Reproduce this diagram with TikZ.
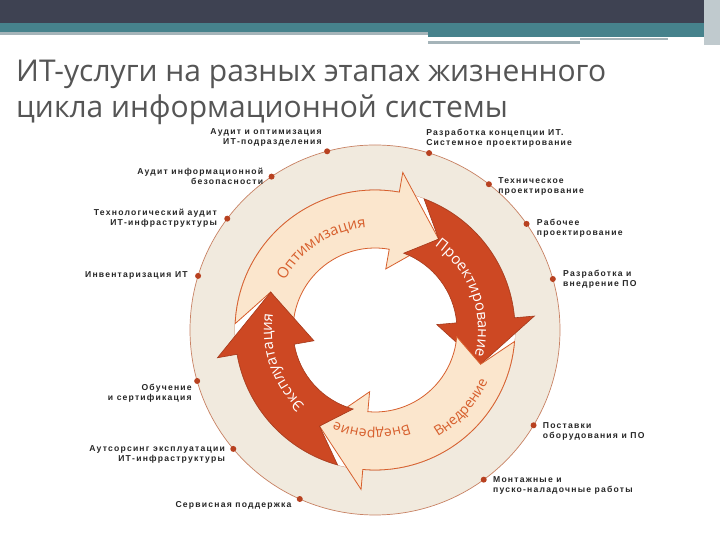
\documentclass[tikz,border=0pt]{standalone}
\usepackage{fontspec}
\setmainfont{Open Sans}
\newfontfamily\lab[LetterSpace=14]{Liberation Sans}
\usetikzlibrary{decorations.text}
\definecolor{topdark}{RGB}{62,66,82}
\definecolor{teal}{RGB}{70,130,140}
\definecolor{grayln}{RGB}{165,180,185}
\definecolor{ringbeige}{RGB}{241,234,222}
\definecolor{ringline}{RGB}{200,130,100}
\definecolor{cream}{RGB}{251,230,205}
\definecolor{redarr}{RGB}{205,72,35}
\definecolor{orangetxt}{RGB}{215,95,45}
\definecolor{titlegray}{RGB}{85,85,85}
\tikzset{
  dotm/.style={circle,fill=redarr!90!black,inner sep=0pt,minimum size=6pt},
  labl/.style={font=\lab\bfseries\fontsize{8.6}{10}\selectfont,align=left,text=black!85,inner sep=1pt},
  labr/.style={font=\lab\bfseries\fontsize{8.6}{10}\selectfont,align=right,text=black!85,inner sep=1pt},
  creamarr/.style={fill=cream,draw=orangetxt,line width=0.8pt},
  redarrst/.style={fill=redarr,draw=redarr!80!black,line width=0.6pt}
}
% arrow: #2 tail angle, #3 tail mid angle, #4 head base, #5 tip
\newcommand{\myarrow}[5][]{%
  \path[#1] (#2:140) arc[start angle=#2,end angle=#4,radius=140] -- (#4:160) -- (#5:111) -- (#4:62) -- (#4:82)
    arc[start angle=#4,end angle=#2,radius=82] -- (#3:111) -- cycle;}
\begin{document}
\begin{tikzpicture}[x=1pt,y=1pt]
\useasboundingbox (0,0) rectangle (720,540);
\fill[white] (0,0) rectangle (720,540);
% top bar
\fill[topdark] (0,517) rectangle (720,540);
\fill[teal] (0,508) rectangle (720,517);
\fill[grayln] (0,505) rectangle (428,508);
\fill[teal] (428,503) rectangle (705,508);
\fill[grayln] (428,496) rectangle (580,499);
\fill[grayln] (580,500) rectangle (668,502);
\fill[grayln!70] (704,495) rectangle (720,540);
% title
\node[anchor=west,text=titlegray,font=\fontsize{30}{34}\selectfont,inner sep=0pt] (t1) at (16,466) {ИТ-услуги на разных этапах жизненного};
\node[anchor=west,text=titlegray,font=\fontsize{30}{34}\selectfont,inner sep=0pt] (t2) at (16,430) {цикла информационной системы};
\begin{scope}[shift={(375,210)}]
\fill[ringbeige] (0,0) circle (185);
\draw[ringline,line width=0.7pt] (0,0) circle (185);
\draw[ringline,line width=0.7pt] (0,0) circle (140);
\fill[white] (0,0) circle (140);
\myarrow[creamarr]{177.4}{160}{80}{55}
\myarrow[redarrst]{69.5}{55}{5}{-18}
\myarrow[creamarr]{-4.7}{-18}{-95}{-120}
\myarrow[redarrst]{-105.5}{-120}{-170}{-200}
% arrow texts
\path[decorate,decoration={text along path,text align=center,text={|\fontsize{15}{15}\selectfont\color{orangetxt}|Оптимизация}}] (168:103) arc[start angle=168,end angle=78,radius=103];
\path[decorate,decoration={text along path,text align=center,text={|\fontsize{15}{15}\selectfont\color{white}|Проектирование}}] (62:103) arc[start angle=62,end angle=-22,radius=103];
\path[decorate,decoration={text along path,text align=center,text={|\fontsize{14}{14}\selectfont\color{orangetxt}|Внедрение}}] (-62:124) arc[start angle=-62,end angle=-22,radius=124];
\path[decorate,decoration={text along path,text align=center,text={|\fontsize{14}{14}\selectfont\color{orangetxt}|Внедрение}}] (-66:100) arc[start angle=-66,end angle=-118,radius=100];
\path[decorate,decoration={text along path,text align=center,text={|\fontsize{15}{15}\selectfont\color{white}|Эксплуатация}}] (-122:103) arc[start angle=-122,end angle=-200,radius=103];
% dots
\foreach \n/\a in {d1/105,d2/124,d3/143,d4/163,d5/196,d6/220,d7/246,r1/73,r2/52,r3/35,r4/16,r5/-31,r6/-54}
  \node[dotm] (\n) at (\a:185) {};
\end{scope}
% labels left
\node[labr,anchor=south east] (l1) at ([xshift=-2pt,yshift=2pt]d1.north west) {Аудит и оптимизация\\ИТ-подразделения};
\node[labr,anchor=east] (l2) at ([xshift=-4pt]d2.west) {Аудит информационной\\безопасности};
\node[labr,anchor=east] (l3) at ([xshift=-6pt]d3.west) {Технологический аудит\\ИТ-инфраструктуры};
\node[labr,anchor=east] (l4) at ([xshift=-6pt]d4.west) {Инвентаризация ИТ};
\node[labr,anchor=north east] (l5) at ([xshift=-2pt]d5.south west) {Обучение\\и сертификация};
\node[labr,anchor=east] (l6) at ([xshift=-4pt,yshift=-6pt]d6.west) {Аутсорсинг эксплуатации\\ИТ-инфраструктуры};
\node[labr,anchor=east] (l7) at ([xshift=-4pt,yshift=-6pt]d7.west) {Сервисная поддержка};
% labels right
\node[labl,anchor=south west] (m1) at ([xshift=-4pt,yshift=1pt]r1.north) {Разработка концепции ИТ.\\Системное проектирование};
\node[labl,anchor=west] (m2) at ([xshift=5pt,yshift=-2pt]r2.east) {Техническое\\проектирование};
\node[labl,anchor=west] (m3) at ([xshift=6pt,yshift=-4pt]r3.east) {Рабочее\\проектирование};
\node[labl,anchor=west] (m4) at ([xshift=6pt]r4.east) {Разработка и\\внедрение ПО};
\node[labl,anchor=west] (m5) at ([xshift=5pt,yshift=-6pt]r5.east) {Поставки\\оборудования и ПО};
\node[labl,anchor=west] (m6) at ([xshift=5pt,yshift=-6pt]r6.east) {Монтажные и\\пуско-наладочные работы};
\end{tikzpicture}
\end{document}
